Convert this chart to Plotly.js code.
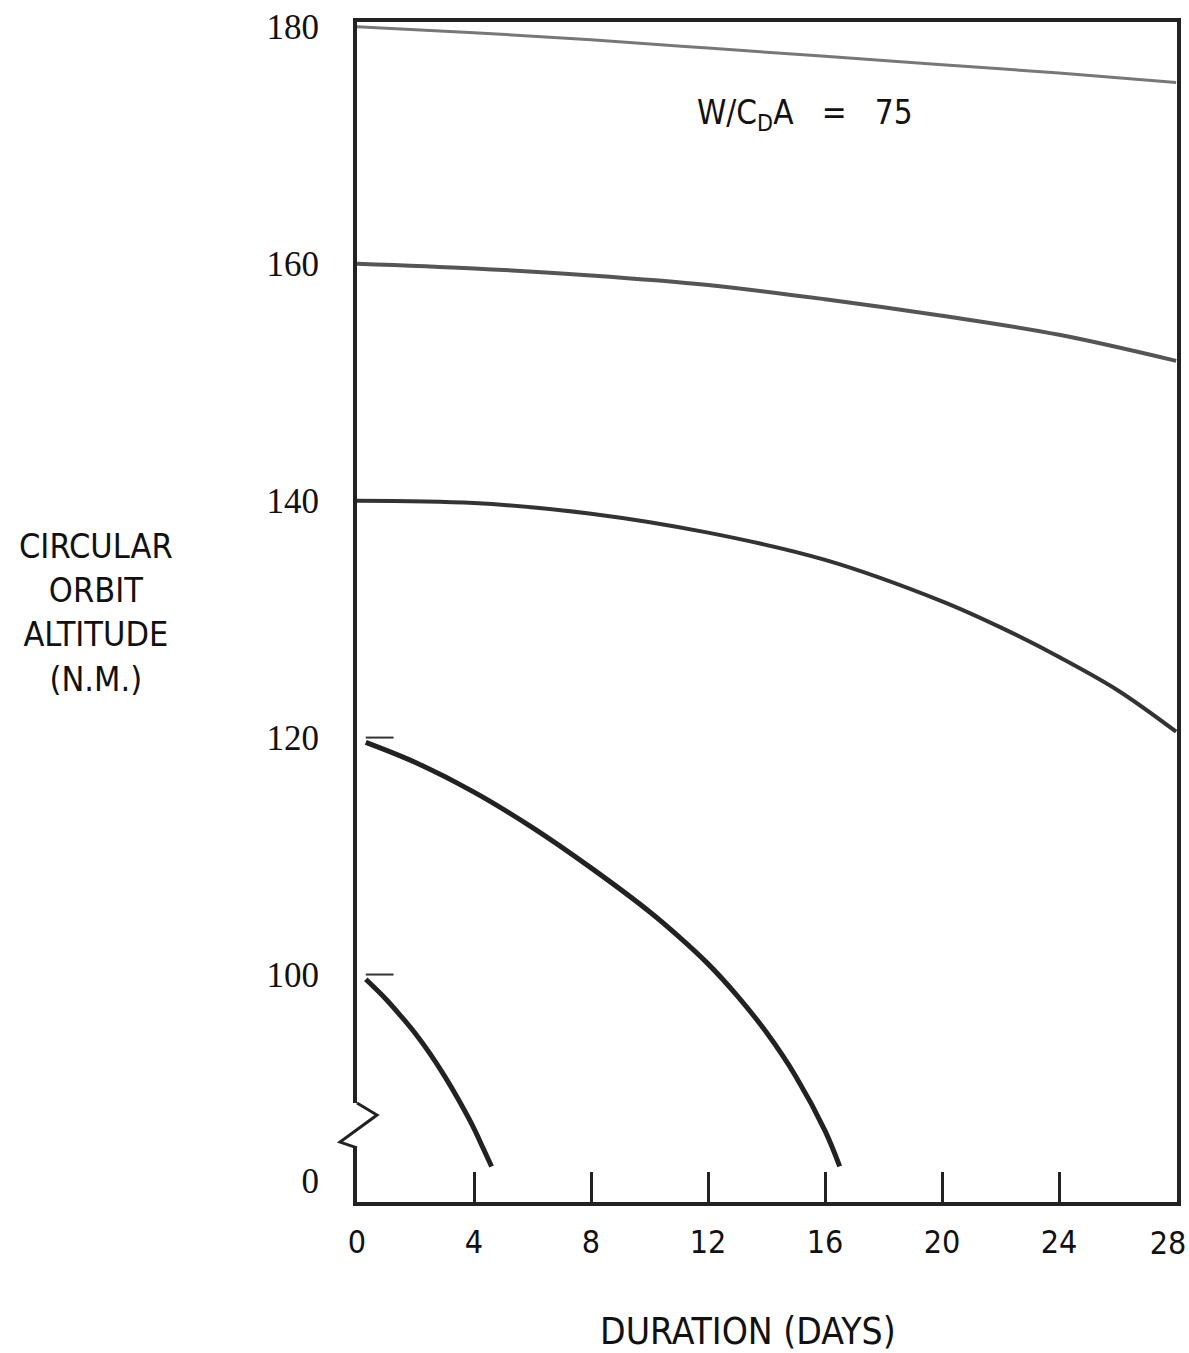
<!DOCTYPE html>
<html>
<head>
<meta charset="utf-8">
<script src="https://cdn.plot.ly/plotly-3.0.1.min.js"></script>
<style>html,body{margin:0;padding:0;background:#fff;}#chart{width:1189px;height:1353px;}</style>
</head>
<body>
<div id="chart"></div>
<script>
// Duration (days) and circular orbit altitude (n.m.) for each starting altitude, W/CdA = 75
const days180 = [0, 4, 8, 12, 16, 20, 24, 28];
const alt180  = [180, 179.5, 178.9, 178.2, 177.5, 176.8, 176.1, 175.3];

const days160 = [0, 4, 8, 12, 16, 20, 24, 28];
const alt160  = [160, 159.6, 159.0, 158.2, 157.0, 155.6, 154.0, 151.8];

const days140 = [0, 4, 8, 12, 16, 20, 22, 24, 26, 28];
const alt140  = [140, 139.8, 138.9, 137.3, 135.0, 131.5, 129.3, 126.8, 124.0, 120.5];

const days120 = [0.3, 2, 4, 6, 8, 10, 11, 12, 13, 14, 15, 16, 16.5];
const alt120  = [119.6, 117.9, 115.4, 112.4, 109.0, 105.3, 103.2, 100.9, 98.2, 95.1, 91.4, 86.8, 83.8];

const days100 = [0.3, 1, 1.5, 2, 2.5, 3, 3.5, 4, 4.3, 4.6];
const alt100  = [99.6, 97.9, 96.5, 95.0, 93.3, 91.4, 89.3, 87.0, 85.4, 83.8];

const xTickVals = [0, 4, 8, 12, 16, 20, 24, 28];
const xTickText = ['0', '4', '8', '12', '16', '20', '24', ''];
const xEndTickVals = [28];          // last label, nudged left so it stays on the page
const xEndTickText = ['28'];
const yTickVals = [82.6, 100, 120, 140, 160, 180];   // broken axis: bottom "0"
const yTickText = ['0', '100', '120', '140', '160', '180'];
const startMarks = [100, 120];

const SANS = 'DejaVu Sans Condensed, Liberation Sans Narrow, Roboto, sans-serif';

function curve(x, y, color, width, xaxis) {
  return {x: x, y: y, type: 'scatter', mode: 'lines', xaxis: xaxis || 'x', yaxis: 'y',
          line: {color: color, width: width, shape: 'spline', smoothing: 1},
          hoverinfo: 'x+y', showlegend: false};
}

const traces = [
  curve(days180, alt180, '#777777', 3, 'x2'),
  curve(days160, alt160, '#555555', 4),
  curve(days140, alt140, '#333333', 4),
  curve(days120, alt120, '#222222', 5),
  curve(days100, alt100, '#222222', 5)
];

const shapes = startMarks.map(v => ({
  type: 'line', xref: 'x', yref: 'y', x0: 0.3, x1: 1.25, y0: v, y1: v,
  line: {color: '#333', width: 2}
}));
// axis break (zigzag) on left frame
shapes.push({type: 'rect', xref: 'paper', yref: 'paper', x0: -0.008, x1: 0.008,
             y0: 0.0458, y1: 0.0839, fillcolor: '#ffffff', line: {width: 0}, layer: 'above'});
shapes.push({type: 'path', xref: 'paper', yref: 'paper', layer: 'above',
             path: 'M 0 0.0839 L 0.0244 0.0737 L -0.0207 0.0508 L 0 0.0458',
             line: {color: '#222', width: 3}});

const layout = {
  width: 1189, height: 1353,
  margin: {l: 357, r: 12, t: 22, b: 151},
  paper_bgcolor: '#ffffff', plot_bgcolor: '#ffffff',
  showlegend: false,
  xaxis: {
    range: [0, 28.03], tickvals: xTickVals, ticktext: xTickText,
    ticks: 'inside', ticklen: 30, tickwidth: 3, tickcolor: '#222',
    showgrid: false, zeroline: false,
    showline: true, mirror: true, linewidth: 4, linecolor: '#222',
    tickfont: {family: SANS, size: 32, color: '#111'},
    ticklabelstandoff: 9
  },
  xaxis2: {
    overlaying: 'x', matches: 'x', anchor: 'y', side: 'bottom',
    tickvals: xEndTickVals, ticktext: xEndTickText,
    ticks: '', showgrid: false, zeroline: false, showline: false,
    tickfont: {family: SANS, size: 32, color: '#111'},
    ticklabelstandoff: 19, ticklabelshift: -8, ticklabeloverflow: 'allow'
  },
  yaxis: {
    range: [80.8, 180.4], tickvals: yTickVals, ticktext: yTickText,
    ticks: '', showgrid: false, zeroline: false,
    showline: true, mirror: true, linewidth: 4, linecolor: '#222',
    tickfont: {family: 'Liberation Serif, serif', size: 35, color: '#111'},
    ticklabelstandoff: 27
  },
  annotations: [
    {xref: 'x', yref: 'y', x: 15.3, y: 172.6, showarrow: false,
     text: 'W/C<sub>D</sub>A   =   75',
     font: {family: SANS, size: 33, color: '#111'}},
    {xref: 'paper', yref: 'paper', x: -0.318, y: 0.5, xanchor: 'center', yanchor: 'middle',
     showarrow: false, align: 'center',
     text: 'CIRCULAR<br>ORBIT<br>ALTITUDE<br>(N.M.)',
     font: {family: SANS, size: 34, color: '#111'}},
    {xref: 'paper', yref: 'paper', x: 0.477, y: -0.110, xanchor: 'center', yanchor: 'middle',
     showarrow: false,
     text: 'DURATION (DAYS)',
     font: {family: SANS, size: 37, color: '#111'}}
  ],
  shapes: shapes
};

Plotly.newPlot('chart', traces, layout, {displayModeBar: false, staticPlot: true});
</script>
</body>
</html>
